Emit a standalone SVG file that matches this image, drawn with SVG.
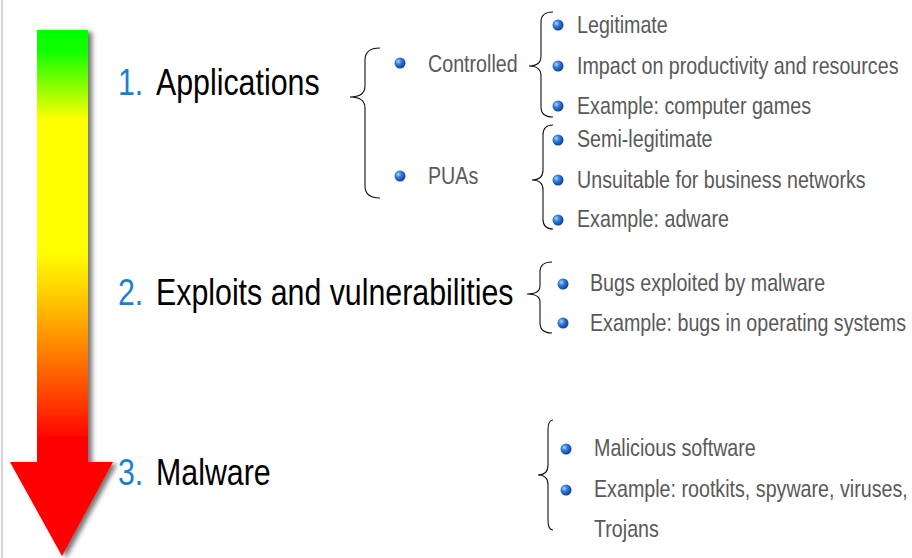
<svg xmlns="http://www.w3.org/2000/svg" width="912" height="558" viewBox="0 0 912 558">
<style>
.h{font-family:"Liberation Sans",Arial,sans-serif;font-size:37px;fill:#000}
.n{fill:#1a7fd0}
.s{font-family:"Liberation Sans",Arial,sans-serif;font-size:24px;fill:#595959}
.br{fill:none;stroke:#111;stroke-width:1.1}
</style>
<defs>
<linearGradient id="ag" x1="0" y1="30" x2="0" y2="556" gradientUnits="userSpaceOnUse">
<stop offset="0" stop-color="#00ff00"/>
<stop offset="0.04" stop-color="#10ff00"/>
<stop offset="0.11" stop-color="#90ff00"/>
<stop offset="0.17" stop-color="#ffff00"/>
<stop offset="0.42" stop-color="#ffff00"/>
<stop offset="0.50" stop-color="#ffd000"/>
<stop offset="0.61" stop-color="#ff8000"/>
<stop offset="0.70" stop-color="#ff4000"/>
<stop offset="0.78" stop-color="#ff0000"/>
<stop offset="1" stop-color="#ff0000"/>
</linearGradient>
<radialGradient id="bg" cx="0.35" cy="0.35" r="0.7">
<stop offset="0" stop-color="#a8d6ff"/>
<stop offset="0.4" stop-color="#347ddc"/>
<stop offset="1" stop-color="#0e3a8c"/>
</radialGradient>
<filter id="sh" x="-20%" y="-5%" width="150%" height="115%">
<feDropShadow dx="4" dy="2" stdDeviation="2.5" flood-color="#000" flood-opacity="0.55"/>
</filter>
<circle id="b" r="5.5" fill="url(#bg)"/>
</defs>
<rect x="0" y="0" width="912" height="558" fill="#fff"/>
<rect x="1" y="0" width="2" height="558" fill="#d4d4d4"/>
<g id="arrow">
<path d="M37,30 H88 V462 H113 L62,556 L10,462 H37 Z" fill="url(#ag)" filter="url(#sh)"/>
</g>
<g id="applications">
<text transform="matrix(0.82,0,0,1,118,95)" class="h n">1.</text>
<text transform="matrix(0.82,0,0,1,156,95)" class="h">Applications</text>
<path class="br" d="M380,48 Q365,48 365,60 V86 Q365,97 350,97 Q365,97 365,108 V186 Q365,198 380,198"/>
</g>
<g id="controlled">
<use href="#b" x="400" y="63"/>
<text transform="matrix(0.82,0,0,1,428,72)" class="s">Controlled</text>
<path class="br" d="M553,12 Q541,12 541,22 V56 Q541,66 529,66 Q541,66 541,76 V107 Q541,117 553,117"/>
<use href="#b" x="558" y="25"/>
<text transform="matrix(0.82,0,0,1,577,33)" class="s">Legitimate</text>
<use href="#b" x="558" y="66"/>
<text transform="matrix(0.82,0,0,1,577,74)" class="s">Impact on productivity and resources</text>
<use href="#b" x="558" y="106"/>
<text transform="matrix(0.82,0,0,1,577,114)" class="s">Example: computer games</text>
</g>
<g id="puas">
<use href="#b" x="400" y="176"/>
<text transform="matrix(0.82,0,0,1,428,184)" class="s">PUAs</text>
<path class="br" d="M553,125 Q543,125 543,135 V170 Q543,180 532,180 Q543,180 543,190 V219 Q543,229 553,229"/>
<use href="#b" x="558" y="140"/>
<text transform="matrix(0.82,0,0,1,577,147)" class="s">Semi-legitimate</text>
<use href="#b" x="558" y="180"/>
<text transform="matrix(0.82,0,0,1,577,188)" class="s">Unsuitable for business networks</text>
<use href="#b" x="558" y="220"/>
<text transform="matrix(0.82,0,0,1,577,227)" class="s">Example: adware</text>
</g>
<g id="exploits">
<text transform="matrix(0.82,0,0,1,118,305)" class="h n">2.</text>
<text transform="matrix(0.82,0,0,1,156,305)" class="h">Exploits and vulnerabilities</text>
<path class="br" d="M552,262 Q540,262 540,272 V286 Q540,294 527,294 Q540,294 540,302 V323 Q540,333 552,333"/>
<use href="#b" x="563" y="284"/>
<text transform="matrix(0.82,0,0,1,590,291)" class="s">Bugs exploited by malware</text>
<use href="#b" x="563" y="323"/>
<text transform="matrix(0.82,0,0,1,590,331)" class="s">Example: bugs in operating systems</text>
</g>
<g id="malware">
<text transform="matrix(0.82,0,0,1,118,485)" class="h n">3.</text>
<text transform="matrix(0.82,0,0,1,156,485)" class="h">Malware</text>
<path class="br" d="M553,420 Q548,420 548,430 V465 Q548,475 538,475 Q548,475 548,485 V520 Q548,530 553,530"/>
<use href="#b" x="566" y="449"/>
<text transform="matrix(0.82,0,0,1,594,456)" class="s">Malicious software</text>
<use href="#b" x="566" y="490"/>
<text transform="matrix(0.82,0,0,1,594,497)" class="s">Example: rootkits, spyware, viruses,</text>
<text transform="matrix(0.82,0,0,1,594,537)" class="s">Trojans</text>
</g>
<g id="connectors"></g>
</svg>
